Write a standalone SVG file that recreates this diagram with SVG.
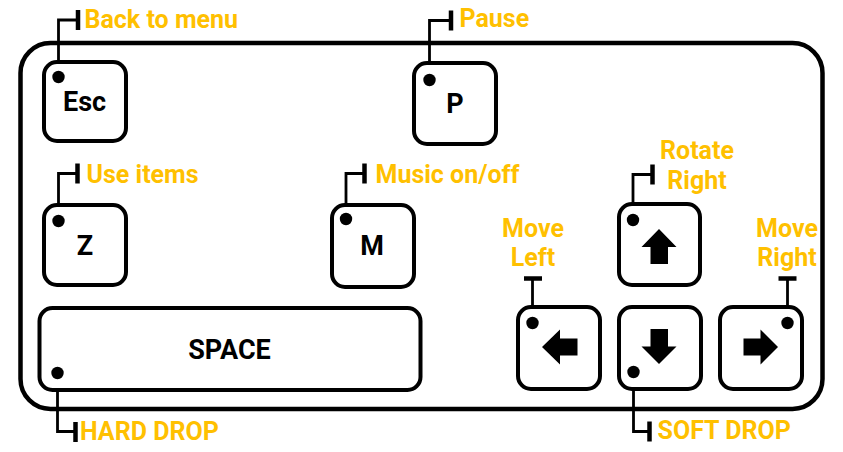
<svg xmlns="http://www.w3.org/2000/svg" width="843" height="452" viewBox="0 0 843 452">
<style>
.frame{fill:none;stroke:#000;stroke-width:4.5}
.key{fill:#fff;stroke:#000;stroke-width:4}
.kt{font-family:Roboto,"Liberation Sans",sans-serif;font-weight:bold;font-size:27px;fill:#000;text-anchor:middle}
.lb{font-family:Roboto,"Liberation Sans",sans-serif;font-weight:bold;font-size:25px;fill:#FFC000}
.lbc{text-anchor:middle}
.wire{fill:none;stroke:#000;stroke-width:2.8}
.tee{fill:none;stroke:#000;stroke-width:4.5}
.dot{fill:#000}
.arr{fill:#000}
</style>
<rect class="frame" x="20.5" y="43" width="802" height="366" rx="30"/>
<g id="connectors">
<path class="wire" d="M58.5 77 V20 H78"/><path class="tee" d="M78 10 V30"/>
<path class="wire" d="M429.5 80 V20.5 H451"/><path class="tee" d="M451 10.5 V30.5"/>
<path class="wire" d="M58.5 221 V173.5 H77.5"/><path class="tee" d="M77.5 163.5 V183.5"/>
<path class="wire" d="M346 219 V173.5 H364.5"/><path class="tee" d="M364.5 163.5 V183.5"/>
<path class="wire" d="M633 220 V174.5 H652.5"/><path class="tee" d="M652.5 164.5 V184.5"/>
<path class="wire" d="M532.5 323 V279"/><path class="tee" d="M524 278.5 H542"/>
<path class="wire" d="M787.5 323 V279"/><path class="tee" d="M778.5 278.5 H796.5"/>
<path class="wire" d="M633.5 372 V431.5 H649.5"/><path class="tee" d="M649.5 421.5 V441.5"/>
<path class="wire" d="M57.5 373 V431.5 H75.5"/><path class="tee" d="M75.5 422 V442"/>
</g>
<g id="key-esc">
<rect class="key" x="44" y="62" width="82" height="79" rx="13"/>
<text class="kt" x="84.5" y="111">Esc</text>
<circle class="dot" cx="58.5" cy="77" r="6.2"/>
<text class="lb" x="84.5" y="28.3">Back to menu</text>
</g>
<g id="key-p">
<rect class="key" x="414" y="63" width="82" height="81" rx="13"/>
<text class="kt" x="455" y="112.5">P</text>
<circle class="dot" cx="429.5" cy="80" r="6.2"/>
<text class="lb" x="459.5" y="27">Pause</text>
</g>
<g id="key-z">
<rect class="key" x="44" y="205" width="82" height="80" rx="13"/>
<text class="kt" x="85" y="254.5">Z</text>
<circle class="dot" cx="58.5" cy="221" r="6.2"/>
<text class="lb" x="86.5" y="182.7">Use items</text>
</g>
<g id="key-m">
<rect class="key" x="332" y="205" width="82" height="82" rx="13"/>
<text class="kt" x="372" y="254.5">M</text>
<circle class="dot" cx="346" cy="219" r="6.2"/>
<text class="lb" x="375.5" y="182.7">Music on/off</text>
</g>
<g id="key-up">
<rect class="key" x="619" y="204" width="81" height="81" rx="13"/>
<path class="arr" d="M659 229 L676.5 247 L668 247 L668 264 L650.5 264 L650.5 247 L641.5 247 Z"/>
<circle class="dot" cx="633" cy="220" r="6.2"/>
<text class="lb lbc" x="697" y="159">Rotate</text>
<text class="lb lbc" x="697" y="189">Right</text>
</g>
<g id="key-left">
<rect class="key" x="518" y="307" width="82" height="82" rx="13"/>
<path class="arr" d="M542 347 L560 329.5 L560 338.5 L577.5 338.5 L577.5 355.5 L560 355.5 L560 364.5 Z"/>
<circle class="dot" cx="532.5" cy="323" r="6.2"/>
<text class="lb lbc" x="533" y="237">Move</text>
<text class="lb lbc" x="533" y="266">Left</text>
</g>
<g id="key-down">
<rect class="key" x="619" y="307" width="82" height="82" rx="13"/>
<path class="arr" d="M659 364 L676.5 346.5 L668 346.5 L668 329 L650.5 329 L650.5 346.5 L641.5 346.5 Z"/>
<circle class="dot" cx="633.5" cy="372" r="6.2"/>
<text class="lb" x="657.5" y="439">SOFT DROP</text>
</g>
<g id="key-right">
<rect class="key" x="720" y="307" width="82" height="82" rx="13"/>
<path class="arr" d="M778 347 L760.5 329.5 L760.5 338.5 L743.5 338.5 L743.5 355.5 L760.5 355.5 L760.5 364.5 Z"/>
<circle class="dot" cx="787.5" cy="323" r="6.2"/>
<text class="lb lbc" x="787" y="237">Move</text>
<text class="lb lbc" x="787" y="266">Right</text>
</g>
<g id="key-space">
<rect class="key" x="39.5" y="308" width="381" height="82" rx="13"/>
<text class="kt" x="229.5" y="358.5">SPACE</text>
<circle class="dot" cx="57.5" cy="373" r="6.2"/>
<text class="lb" x="80" y="440">HARD DROP</text>
</g>
</svg>
